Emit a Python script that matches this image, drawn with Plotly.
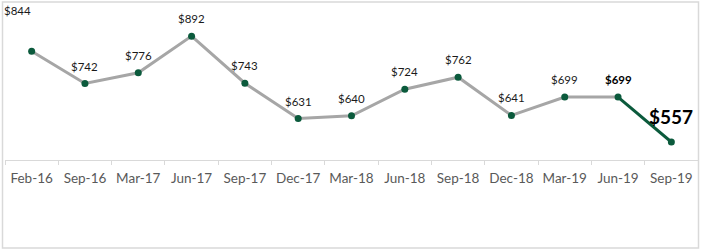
import plotly.graph_objects as go

categories = ["Feb-16", "Sep-16", "Mar-17", "Jun-17", "Sep-17", "Dec-17", "Mar-18",
              "Jun-18", "Sep-18", "Dec-18", "Mar-19", "Jun-19", "Sep-19"]
values = [844, 742, 776, 892, 743, 631, 640, 724, 762, 641, 699, 699, 557]

GRAY = "#A6A6A6"
GREEN = "#0B5A3C"
FONT = "Lato"

fig = go.Figure()

# gray main line (all but last segment)
fig.add_trace(go.Scatter(
    x=categories[:-1], y=values[:-1], mode="lines",
    line=dict(color=GRAY, width=3), hoverinfo="skip", showlegend=False))
# highlighted last segment
fig.add_trace(go.Scatter(
    x=categories[-2:], y=values[-2:], mode="lines",
    line=dict(color=GREEN, width=3), hoverinfo="skip", showlegend=False))
# markers
fig.add_trace(go.Scatter(
    x=categories, y=values, mode="markers",
    marker=dict(color=GREEN, size=7), showlegend=False))

# data labels
n = len(values)
for i, (c, v) in enumerate(zip(categories, values)):
    font = dict(family=FONT, size=11.5, color="#1a1a1a")
    xshift, yshift = 0, 9
    if i == 0:
        xshift, yshift = -14, 32
    if i == n - 2:
        font = dict(family=FONT, size=11.5, color="#000000", weight="bold")
    if i == n - 1:
        font = dict(family=FONT, size=19, color="#000000", weight="bold")
        xshift, yshift = 0, 12
    fig.add_annotation(x=c, y=v, xref="x", yref="y", text=f"${v}",
                       showarrow=False, font=font, yanchor="bottom",
                       xshift=xshift, yshift=yshift)

fig.update_xaxes(
    type="category", showgrid=False, showline=True, linecolor="#D9D9D9",
    linewidth=1, ticks="outside", tickson="boundaries", ticklen=4,
    tickcolor="#D9D9D9", tickfont=dict(family=FONT, size=13.5, color="#595959"),
    tickangle=0, automargin=False,
    ticklabelstandoff=6, range=[-0.5, n - 0.5], zeroline=False)
fig.update_yaxes(range=[500, 1000], visible=False, showgrid=False)

fig.update_layout(
    width=704, height=250,
    margin=dict(l=5, r=6, t=2, b=90, autoexpand=False),
    paper_bgcolor="white", plot_bgcolor="white",
    shapes=[dict(type="rect", xref="paper", yref="paper",
                 x0=-2.5 / 693, x1=1 + 0.5 / 693, y0=-88 / 158, y1=1.0,
                 line=dict(color="#D9D9D9", width=1.5), fillcolor="rgba(0,0,0,0)",
                 layer="below")],
)

fig.write_html("out.html")
